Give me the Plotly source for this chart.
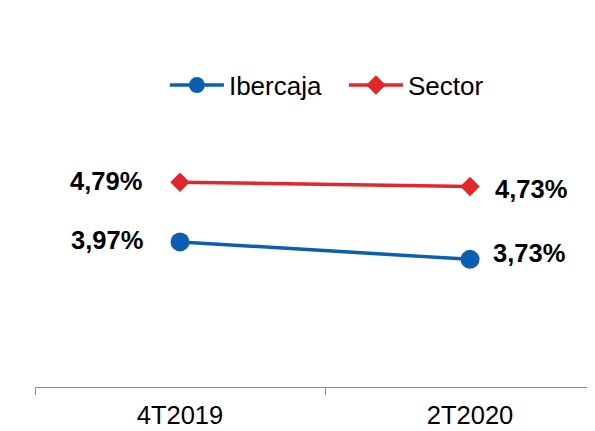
import plotly.graph_objects as go

categories = ["4T2019", "2T2020"]
ibercaja = [3.97, 3.73]
sector = [4.79, 4.73]
ibercaja_labels = ["3,97%", "3,73%"]
sector_labels = ["4,79%", "4,73%"]

BLUE = "#0A5FB2"
RED = "#E3262B"
FONT = "Arial, Liberation Sans, sans-serif"

fig = go.Figure()
fig.add_trace(go.Scatter(
    x=categories, y=ibercaja, name="Ibercaja", mode="lines+markers",
    line=dict(color=BLUE, width=3.5),
    marker=dict(symbol="circle", size=19, color=BLUE),
))
fig.add_trace(go.Scatter(
    x=categories, y=sector, name="Sector", mode="lines+markers",
    line=dict(color=RED, width=3.5),
    marker=dict(symbol="diamond", size=15, color=RED),
))

# data labels
label_specs = [
    (categories[0], sector[0], sector_labels[0], "right", -36, 1),
    (categories[1], sector[1], sector_labels[1], "left", 23, -2),
    (categories[0], ibercaja[0], ibercaja_labels[0], "right", -35, 2),
    (categories[1], ibercaja[1], ibercaja_labels[1], "left", 21, 6),
]
for x, y, t, anchor, xs, ys in label_specs:
    fig.add_annotation(
        x=x, y=y, text=f"<b>{t}</b>", showarrow=False,
        xanchor=anchor, yanchor="middle", xshift=xs, yshift=ys,
        font=dict(family=FONT, size=25.5, color="black"),
    )

# page body has an 8px margin: shrink the figure accordingly
fig.update_layout(
    width=587, height=423,
    margin=dict(l=27, r=0, t=86, b=44, autoexpand=False),
    paper_bgcolor="white", plot_bgcolor="white",
    font=dict(family=FONT, color="black"),
    showlegend=True,
    legend=dict(
        orientation="h", x=0.232, xanchor="left", y=1.03, yanchor="middle",
        font=dict(family=FONT, size=26, color="black"),
        bgcolor="rgba(0,0,0,0)", itemwidth=54, tracegroupgap=0,
        entrywidth=110, entrywidthmode="pixels",
    ),
)
fig.update_xaxes(
    type="category", range=[-0.5, 1.431], automargin=False,
    showline=True, linecolor="#8c8c8c", linewidth=1,
    ticks="outside", tickson="boundaries", ticklen=7, tickcolor="#8c8c8c",
    showgrid=False, zeroline=False, ticklabelstandoff=5,
    tickfont=dict(family=FONT, size=25.5, color="black"),
)
fig.update_yaxes(
    range=[1.978, 6.0], visible=False, showgrid=False, zeroline=False,
)

fig.write_html("out.html")
